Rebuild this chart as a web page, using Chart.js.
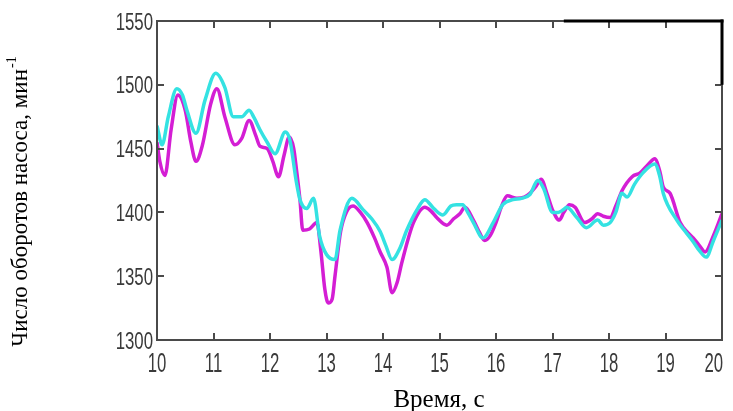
<!DOCTYPE html>
<html>
<head>
<meta charset="utf-8">
<script src="https://cdn.jsdelivr.net/npm/chart.js@4/dist/chart.umd.min.js"></script>
<style>
  html, body { margin: 0; padding: 0; background: #fff; }
  #wrap { width: 733px; height: 411px; }
</style>
</head>
<body>
<div id="wrap"><canvas id="pump-chart"></canvas></div>
<script>
// x ticks (time, s) and y ticks (rpm)
const xTicks = [10, 11, 12, 13, 14, 15, 16, 17, 18, 19, 20];
const yTicks = [1300, 1350, 1400, 1450, 1500, 1550];

const xTitle = "Время, с";
const yTitle = "Число оборотов насоса, мин";
const yTitleSup = "-1";

// magenta curve
const magentaTime = [10.0, 10.05, 10.14, 10.25, 10.37, 10.5, 10.6, 10.69, 10.8, 10.95, 11.06, 11.2, 11.38, 11.5, 11.63, 11.75, 11.82, 11.95, 12.05, 12.15,
    12.25, 12.34, 12.42, 12.47, 12.53, 12.58, 12.7, 12.83, 12.9, 12.97, 13.03, 13.1, 13.15, 13.25, 13.35, 13.47, 13.6, 13.72, 13.85, 13.95,
    14.07, 14.16, 14.25, 14.33, 14.45, 14.54, 14.74, 14.85, 14.95, 15.13, 15.25, 15.36, 15.45, 15.6, 15.7, 15.8, 15.9, 16.0, 16.1, 16.2,
    16.37, 16.5, 16.6, 16.7, 16.8, 16.9, 17.0, 17.12, 17.2, 17.3, 17.4, 17.57, 17.7, 17.8, 17.9, 18.02, 18.12, 18.23, 18.41, 18.55,
    18.7, 18.81, 18.9, 18.96, 19.08, 19.26, 19.4, 19.49, 19.6, 19.7, 19.85, 20.0];
const magentaRpm = [1455, 1440, 1429, 1465, 1492, 1480, 1455, 1440, 1452, 1485, 1497, 1475, 1453, 1458, 1472, 1460, 1452, 1450, 1440, 1428,
    1445, 1459, 1450, 1433, 1410, 1386, 1387, 1392, 1370, 1340, 1329, 1332, 1350, 1385, 1400, 1405, 1400, 1392, 1380, 1369,
    1357, 1337, 1345, 1360, 1380, 1392, 1404, 1401, 1396, 1390, 1395, 1399, 1404, 1394, 1385, 1378, 1382, 1392, 1405, 1413,
    1411, 1412, 1415, 1420, 1426, 1415, 1402, 1394, 1400, 1406, 1404, 1392, 1395, 1399, 1397, 1396, 1405, 1417, 1428, 1431,
    1438, 1442, 1432, 1420, 1415, 1392, 1384, 1380, 1374, 1369, 1382, 1399];

// cyan curve
const cyanTime = [10.0, 10.09, 10.2, 10.35, 10.45, 10.53, 10.69, 10.85, 11.04, 11.2, 11.35, 11.5, 11.63, 11.72, 11.82, 11.95, 12.09, 12.27, 12.35, 12.47,
    12.53, 12.65, 12.77, 12.88, 13.0, 13.15, 13.24, 13.45, 13.65, 13.8, 13.95, 14.05, 14.16, 14.3, 14.42, 14.6, 14.74, 14.9, 15.06, 15.2,
    15.3, 15.41, 15.5, 15.6, 15.77, 15.95, 16.12, 16.3, 16.45, 16.6, 16.74, 16.85, 17.0, 17.1, 17.19, 17.25, 17.43, 17.6, 17.8, 17.9,
    18.02, 18.12, 18.23, 18.32, 18.45, 18.6, 18.81, 18.9, 18.96, 19.2, 19.35, 19.49, 19.6, 19.72, 19.85, 20.0];
const cyanRpm = [1468, 1453, 1475, 1497, 1492, 1480, 1462, 1488, 1509, 1498, 1475, 1475, 1480, 1474, 1465, 1455, 1446, 1463, 1457, 1423,
    1410, 1403, 1411, 1381, 1367, 1363, 1386, 1411, 1402, 1395, 1385, 1374, 1363, 1372, 1386, 1402, 1410, 1403, 1398, 1405,
    1406, 1406, 1400, 1392, 1380, 1392, 1406, 1410, 1411, 1414, 1425, 1418, 1400, 1400, 1402, 1404, 1396, 1388, 1394, 1390,
    1392, 1400, 1415, 1412, 1422, 1431, 1438, 1428, 1415, 1394, 1385, 1377, 1370, 1365, 1378, 1394];

function toPoints(xs, ys) {
    return xs.map((t, i) => ({ x: t, y: ys[i] }));
}

// squeezed text, the original uses a narrow font
function narrowText(ctx, text, px, py, sx, align) {
    ctx.save();
    ctx.translate(px, py);
    ctx.scale(sx, 1);
    ctx.textAlign = align;
    ctx.fillText(text, 0, 0);
    ctx.restore();
}

// frame with inward ticks, tick labels, thick black pieces on top/right, axis titles
const framePlugin = {
    id: 'frame',
    afterDraw(chart) {
        const ctx = chart.ctx;
        const a = chart.chartArea;
        const x = chart.scales.x;
        const y = chart.scales.y;
        ctx.save();
        ctx.fillStyle = '#4a4a4a';
        // axis lines as thin filled rects
        ctx.fillRect(a.left - 1, a.top - 1, 2, a.bottom - a.top + 2);
        ctx.fillRect(a.left - 1, a.bottom - 1, a.right - a.left + 2, 2);
        ctx.fillRect(a.left - 1, a.top - 1, a.right - a.left + 2, 2);
        ctx.fillRect(a.right - 1, a.top - 1, 2, a.bottom - a.top + 2);
        xTicks.forEach(v => {
            const px = Math.round(x.getPixelForValue(v));
            ctx.fillRect(px - 1, a.bottom - 7, 2, 7);
            ctx.fillRect(px - 1, a.top, 2, 7);
        });
        yTicks.forEach(v => {
            const py = Math.round(y.getPixelForValue(v));
            ctx.fillRect(a.left, py - 1, 7, 2);
            ctx.fillRect(a.right - 7, py - 1, 7, 2);
        });

        ctx.fillStyle = '#000000';
        const bx = x.getPixelForValue(17.2);
        ctx.fillRect(bx, a.top - 1.5, a.right + 1.5 - bx, 3);
        ctx.fillRect(a.right - 1.5, a.top - 1.5, 3, y.getPixelForValue(1500) - a.top + 1.5);

        // tick labels
        ctx.fillStyle = '#3a3a3a';
        ctx.textBaseline = 'alphabetic';
        ctx.font = "24px 'Liberation Sans', Arial, sans-serif";
        yTicks.forEach(v => {
            narrowText(ctx, String(v), a.left - 4, y.getPixelForValue(v) + 8.5, 0.7, 'right');
        });
        ctx.font = "27px 'Liberation Sans', Arial, sans-serif";
        xTicks.forEach((v, i) => {
            const last = i === xTicks.length - 1;
            narrowText(ctx, String(v), x.getPixelForValue(v) + (last ? 1 : 0), a.bottom + 32, 0.62, last ? 'right' : 'center');
        });

        // x title
        ctx.fillStyle = '#000';
        ctx.font = "25px 'Liberation Serif', 'Times New Roman', serif";
        ctx.textAlign = 'center';
        ctx.fillText(xTitle, 439, 407);

        // y title, rotated
        ctx.translate(27, 202);
        ctx.rotate(-Math.PI / 2);
        ctx.font = "23px 'Liberation Serif', 'Times New Roman', serif";
        const w = ctx.measureText(yTitle).width;
        ctx.font = "14px 'Liberation Serif', 'Times New Roman', serif";
        const ws = ctx.measureText(yTitleSup).width;
        const start = -(w + ws) / 2;
        ctx.textAlign = 'left';
        ctx.font = "23px 'Liberation Serif', 'Times New Roman', serif";
        ctx.fillText(yTitle, start, 0);
        ctx.font = "14px 'Liberation Serif', 'Times New Roman', serif";
        ctx.fillText(yTitleSup, start + w + 1, -11);
        ctx.restore();
    }
};

function renderChart() {
    const data = {
        datasets: [
            {
                label: "cyan",
                data: toPoints(cyanTime, cyanRpm),
                borderColor: "rgb(52, 226, 226)",
                borderWidth: 3.5,
                pointRadius: 0,
                cubicInterpolationMode: 'monotone',
                fill: false
            },
            {
                label: "magenta",
                data: toPoints(magentaTime, magentaRpm),
                borderColor: "rgb(212, 30, 212)",
                borderWidth: 3.5,
                pointRadius: 0,
                cubicInterpolationMode: 'monotone',
                fill: false
            }
        ]
    };

    const config = {
        type: "line",
        data: data,
        options: {
            responsive: true,
            maintainAspectRatio: false,
            animation: false,
            layout: { padding: { top: 21, right: 11, left: 0, bottom: 0 } },
            plugins: {
                legend: { display: false },
                tooltip: { enabled: false }
            },
            scales: {
                x: {
                    type: 'linear',
                    min: 10,
                    max: 20,
                    afterFit: (scale) => { scale.height = 71; scale.paddingLeft = 0; scale.paddingRight = 0; },
                    grid: { display: false, drawTicks: false },
                    border: { display: false },
                    ticks: { display: false }
                },
                y: {
                    type: 'linear',
                    min: 1300,
                    max: 1550,
                    afterFit: (scale) => { scale.width = 157; scale.paddingTop = 0; scale.paddingBottom = 0; },
                    grid: { display: false, drawTicks: false },
                    border: { display: false },
                    ticks: { display: false }
                }
            }
        },
        plugins: [framePlugin]
    };
    const myChart = new Chart("pump-chart", config);
}
renderChart();
</script>
</body>
</html>
